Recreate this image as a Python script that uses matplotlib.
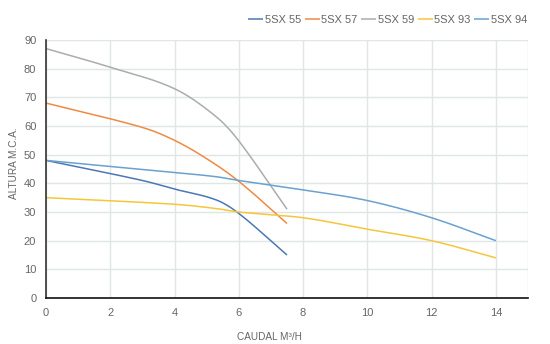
import numpy as np
import matplotlib
matplotlib.use("Agg")
import matplotlib.pyplot as plt

plt.rcParams['font.family'] = ['Liberation Sans', 'DejaVu Sans']

# Pump curves: flow (m3/h) vs head (m.c.a.)
series_names = ["5SX 55", "5SX 57", "5SX 59", "5SX 93", "5SX 94"]

q_55 = [0, 3, 4, 5.3, 6, 7.5]
h_55 = [48, 41, 38, 34.2, 29.5, 15]

q_57 = [0, 3, 4, 5, 6, 7.5]
h_57 = [68, 59.5, 55, 48.6, 40.7, 26]

q_59 = [0, 2, 4, 5.3, 6, 7.5]
h_59 = [87, 80.5, 73, 63.2, 54.8, 31]

q_93 = [0, 4, 5.3, 6, 8, 10, 12, 14]
h_93 = [35, 32.7, 31.2, 30, 28, 24, 20, 14]

q_94 = [0, 4, 5.3, 6, 8, 10, 12, 14]
h_94 = [48, 43.8, 42.3, 41, 37.7, 34, 28, 20]

x_ticks = [0, 2, 4, 6, 8, 10, 12, 14]
y_ticks = [0, 10, 20, 30, 40, 50, 60, 70, 80, 90]

colors = ["#4a78b5", "#ee8a44", "#a9adad", "#f5c63c", "#6aa1cf"]


def smooth(xs, ys, n=40):
    """Cubic Hermite curve through every point, tangents from neighbouring points."""
    xs = np.asarray(xs, float)
    ys = np.asarray(ys, float)
    m = np.empty_like(ys)
    m[1:-1] = (ys[2:] - ys[:-2]) / (xs[2:] - xs[:-2])
    m[0] = (ys[1] - ys[0]) / (xs[1] - xs[0])
    m[-1] = (ys[-1] - ys[-2]) / (xs[-1] - xs[-2])
    out_x, out_y = [xs[0]], [ys[0]]
    t = np.linspace(0, 1, n)[1:]
    for i in range(len(xs) - 1):
        h = xs[i + 1] - xs[i]
        h00 = 2 * t ** 3 - 3 * t ** 2 + 1
        h10 = t ** 3 - 2 * t ** 2 + t
        h01 = -2 * t ** 3 + 3 * t ** 2
        h11 = t ** 3 - t ** 2
        out_x.extend(xs[i] + t * h)
        out_y.extend(h00 * ys[i] + h10 * h * m[i] + h01 * ys[i + 1] + h11 * h * m[i + 1])
    return np.array(out_x), np.array(out_y)


fig = plt.figure(figsize=(5.5, 3.44), dpi=100)
ax = fig.add_axes([46 / 550, 1 - 298 / 344, (528 - 46) / 550, (298 - 40) / 344])

data = [(q_55, h_55), (q_57, h_57), (q_59, h_59), (q_93, h_93), (q_94, h_94)]
for (q, h), name, c in zip(data, series_names, colors):
    sx, sy = smooth(q, h)
    ax.plot(sx, sy, color=c, lw=1.1, label=name, solid_capstyle='butt')

ax.set_xlim(0, 15)
ax.set_ylim(0, 90)
ax.set_xticks(x_ticks)
ax.set_yticks(y_ticks)

grid_c = "#e0e6e6"
ax.grid(True, color=grid_c, lw=1.0)
ax.axvline(15, color=grid_c, lw=1.0)
ax.set_axisbelow(True)

for s in ["top", "right"]:
    ax.spines[s].set_visible(False)
ax.spines["left"].set_color("#333333")
ax.spines["left"].set_linewidth(1.2)
ax.spines["bottom"].set_color("#111111")
ax.spines["bottom"].set_linewidth(1.2)

ax.tick_params(length=0, labelsize=8, labelcolor="#666666", pad=7)

ax.set_xlabel("CAUDAL M³/H", fontsize=7.2, color="#666666")
ax.set_ylabel("ALTURA M.C.A.", fontsize=7.2, color="#666666")
ax.xaxis.set_label_coords(0.464, -0.133)
ax.yaxis.set_label_coords(-0.056, 0.523)

leg = fig.legend(loc="center right", bbox_to_anchor=(527 / 550, 1 - 20 / 344),
                 ncol=5, frameon=False, fontsize=8, handlelength=1.35,
                 handletextpad=0.12, columnspacing=0.35, borderpad=0,
                 borderaxespad=0)
for t in leg.get_texts():
    t.set_color("#666666")

fig.savefig("out.png", dpi=100)
